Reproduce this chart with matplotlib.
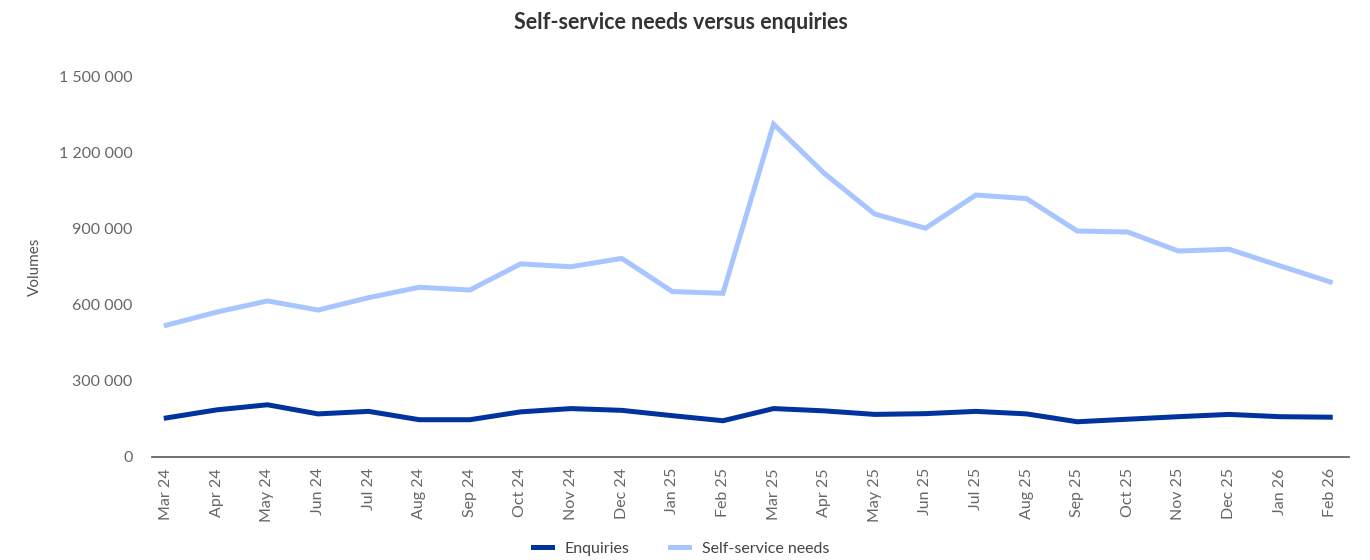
import matplotlib
matplotlib.use("Agg")
import matplotlib.pyplot as plt
from matplotlib.ticker import FuncFormatter

months = ["Mar 24", "Apr 24", "May 24", "Jun 24", "Jul 24", "Aug 24", "Sep 24", "Oct 24",
          "Nov 24", "Dec 24", "Jan 25", "Feb 25", "Mar 25", "Apr 25", "May 25", "Jun 25",
          "Jul 25", "Aug 25", "Sep 25", "Oct 25", "Nov 25", "Dec 25", "Jan 26", "Feb 26"]

enquiries = [154000, 186000, 206000, 170000, 180000, 147000, 147000, 178000,
             191000, 184000, 163000, 143000, 191000, 182000, 168000, 171000,
             180000, 170000, 139000, 149000, 159000, 168000, 159000, 157000]

self_service = [520000, 572000, 616000, 580000, 629000, 670000, 659000, 762000,
                751000, 784000, 653000, 646000, 1314000, 1120000, 959000, 903000,
                1034000, 1020000, 892000, 888000, 813000, 820000, 755000, 691000]

plt.rcParams['font.family'] = ['Lato', 'DejaVu Sans']

fig = plt.figure(figsize=(13.7, 5.6), dpi=100)
ax = fig.add_axes([0.111, 0.184, 0.874, 0.6785])

x = range(len(months))
ax.plot(x, enquiries, color='#00339E', lw=3.6, label='Enquiries', solid_joinstyle='miter')
ax.plot(x, self_service, color='#A9C5FF', lw=3.6, label='Self-service needs', solid_joinstyle='miter')

ax.set_xlim(-0.28, 23.38)
ax.set_ylim(0, 1500000)
ax.set_yticks([0, 300000, 600000, 900000, 1200000, 1500000])
ax.yaxis.set_major_formatter(FuncFormatter(lambda v, p: f"{int(v):,}".replace(",", " ")))
ax.set_xticks(list(x))
ax.set_xticklabels(months, rotation=90)

for s in ['top', 'right', 'left']:
    ax.spines[s].set_visible(False)
ax.spines['bottom'].set_color('#666666')
ax.spines['bottom'].set_linewidth(1.3)
ax.tick_params(axis='both', length=0, colors='#666666', labelsize=11.5)
ax.tick_params(axis='y', pad=14)
ax.tick_params(axis='x', pad=8)

ax.set_ylabel('Volumes', color='#555555', fontsize=11, labelpad=12)
fig.suptitle('Self-service needs versus enquiries', x=0.497, y=0.978,
             fontsize=15.5, fontweight='bold', color='#333333')

fig.legend(loc='lower center', bbox_to_anchor=(0.497, -0.018), ncol=2, frameon=False,
           fontsize=11.5, handlelength=1.2, columnspacing=2.5, labelcolor='#444444')

fig.savefig('out.png', dpi=100)
